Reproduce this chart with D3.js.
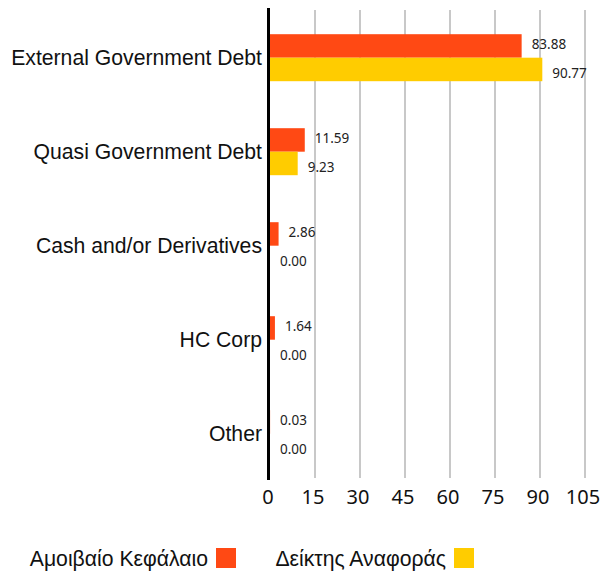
<!DOCTYPE html>
<html>
<head>
<meta charset="utf-8">
<script src="https://cdn.jsdelivr.net/npm/d3@7"></script>
<style>
  body { margin: 0; background: #fff; }
  svg { display: block; }
</style>
</head>
<body>
<svg id="chart" width="604" height="573"></svg>
<script>
var categories = ["External Government Debt", "Quasi Government Debt", "Cash and/or Derivatives", "HC Corp", "Other"];
var series = ["Αμοιβαίο Κεφάλαιο", "Δείκτης Αναφοράς"];
var fundValues = [83.88, 11.59, 2.86, 1.64, 0.03];
var benchValues = [90.77, 9.23, 0.00, 0.00, 0.00];
var xTicks = [0, 15, 30, 45, 60, 75, 90, 105];
var colors = ["#ff4914", "#ffcc00"];

var svg = d3.select("#chart");

var x = d3.scaleLinear().domain([0, 105]).range([270, 585]);
var y0 = d3.scaleBand().domain(categories).range([10.7, 480.7])
    .paddingInner(0.5).paddingOuter(0.25);
var y1 = d3.scaleBand().domain(series).range([0, y0.bandwidth()]);

var rows = categories.map(function(c, i) {
  return { cat: c, vals: [fundValues[i], benchValues[i]] };
});

// grid
svg.append("g")
  .selectAll("line")
  .data(xTicks.filter(function(t) { return t > 0; }))
  .enter().append("line")
  .attr("x1", function(d) { return x(d); })
  .attr("x2", function(d) { return x(d); })
  .attr("y1", 10)
  .attr("y2", 478)
  .attr("stroke", "#c8c8c8")
  .attr("stroke-width", 2);

// bars
var groups = svg.append("g")
  .selectAll("g")
  .data(rows)
  .enter().append("g")
  .attr("transform", function(d) { return "translate(0," + y0(d.cat) + ")"; });

groups.selectAll("rect")
  .data(function(d) { return d.vals; })
  .enter().append("rect")
  .attr("x", x(0))
  .attr("y", function(d, i) { return y1(series[i]); })
  .attr("width", function(d) { return x(d) - x(0); })
  .attr("height", y1.bandwidth())
  .attr("fill", function(d, i) { return colors[i]; });

groups.selectAll("text")
  .data(function(d) { return d.vals; })
  .enter().append("text")
  .attr("x", function(d) { return x(d) + 10; })
  .attr("y", function(d, i) { return y1(series[i]) + y1.bandwidth() / 2 + (i == 0 ? -2 : 3.5); })
  .attr("dominant-baseline", "central")
  .attr("font-family", "'Noto Sans', sans-serif")
  .attr("font-size", 13.5)
  .attr("fill", "#222")
  .text(function(d) { return d.toFixed(2); });

// category labels
svg.append("g")
  .selectAll("text")
  .data(categories)
  .enter().append("text")
  .attr("x", 262)
  .attr("y", function(d) { return y0(d) + y0.bandwidth() / 2; })
  .attr("text-anchor", "end")
  .attr("dominant-baseline", "central")
  .attr("font-family", "'Liberation Sans', Arial, sans-serif")
  .attr("font-size", 21.2)
  .attr("fill", "#111")
  .text(function(d) { return d; });

// axis line
svg.append("line")
  .attr("x1", 268.5).attr("x2", 268.5)
  .attr("y1", 8).attr("y2", 480)
  .attr("stroke", "#000")
  .attr("stroke-width", 3);

// x tick labels
svg.append("g")
  .selectAll("text")
  .data(xTicks)
  .enter().append("text")
  .attr("x", function(d) { return x(d) - 2; })
  .attr("y", 504)
  .attr("text-anchor", "middle")
  .attr("font-family", "'Noto Sans', sans-serif")
  .attr("font-size", 20)
  .attr("fill", "#111")
  .text(function(d) { return d; });

// legend
var legendX = [208, 446];
var legend = svg.append("g")
  .selectAll("g")
  .data(series)
  .enter().append("g");

legend.append("text")
  .attr("x", function(d, i) { return legendX[i]; })
  .attr("y", 566)
  .attr("text-anchor", "end")
  .attr("font-family", "'Liberation Sans', Arial, sans-serif")
  .attr("font-size", 21.2)
  .attr("fill", "#111")
  .text(function(d) { return d; });

legend.append("rect")
  .attr("x", function(d, i) { return legendX[i] + 8; })
  .attr("y", 548)
  .attr("width", 20)
  .attr("height", 20)
  .attr("fill", function(d, i) { return colors[i]; });
</script>
</body>
</html>
